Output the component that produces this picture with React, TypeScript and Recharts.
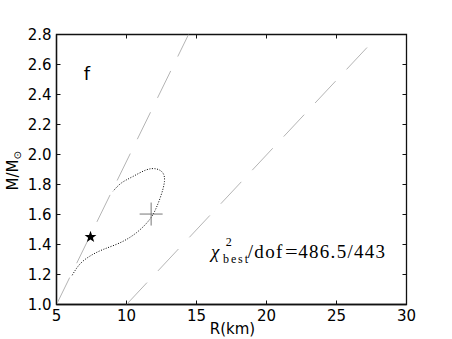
import React from 'react';
import { ComposedChart, Scatter, XAxis, YAxis, Label, ReferenceDot, ReferenceArea, ReferenceLine } from 'recharts';

// ---- data ----
const xTicks = [5, 10, 15, 20, 25, 30];
const yTicks = [1.0, 1.2, 1.4, 1.6, 1.8, 2.0, 2.2, 2.4, 2.6, 2.8];
const xDomain = [5, 30];
const yDomain = [1.0, 2.8];

// 1-sigma contour (dotted)
const contourR = [6.12, 6.64, 7.36, 8.31, 9.5, 10.69, 11.64, 12.12, 12.48, 12.71, 12.59, 12.12, 11.4, 10.45, 9.62, 9.02];
const contourM = [1.195, 1.266, 1.321, 1.366, 1.41, 1.477, 1.565, 1.643, 1.731, 1.82, 1.878, 1.904, 1.897, 1.853, 1.809, 1.753];

// dashed limit lines
const limit1R = [5, 14.43];
const limit1M = [1.0, 2.8];
const limit2R = [10, 27.55];
const limit2M = [1.0, 2.75];

// markers
const starR = [7.43];
const starM = [1.454];
const bestR = [11.76];
const bestM = [1.603];

// annotations
const panelLabel = { r: 7.18, m: 2.50, text: 'f' };
const chiLabel = { r: 16.036, m: 1.3067 };

const toPts = (rs: number[], ms: number[]) => rs.map((r, i) => ({ r, m: ms[i] }));

const contourData = toPts(contourR, contourM);
const limit1Data = toPts(limit1R, limit1M);
const limit2Data = toPts(limit2R, limit2M);
const starData = toPts(starR, starM);
const bestData = toPts(bestR, bestM);

const FONT = 'DejaVu Sans, sans-serif';
const TICK = 4;
const FRAME = '#111';

const BottomTick = (p: any) => (
  <g>
    <line x1={p.x} x2={p.x} y1={p.y} y2={p.y - TICK} stroke={FRAME} strokeWidth={1} />
    <text x={p.x} y={p.y + 16} textAnchor="middle" fontFamily={FONT} fontSize={15} fill="#000">
      {p.payload.value}
    </text>
  </g>
);
const LeftTick = (p: any) => (
  <g>
    <line x1={p.x} x2={p.x + TICK} y1={p.y} y2={p.y} stroke={FRAME} strokeWidth={1} />
    <text x={p.x - 5} y={p.y + 5.5} textAnchor="end" fontFamily={FONT} fontSize={15} fill="#000">
      {Number(p.payload.value).toFixed(1)}
    </text>
  </g>
);

// top tick: short inward mark at the upper end of a vertical reference line
const TopTickLine = (p: any) => {
  const top = Math.min(p.y1, p.y2);
  return <line x1={p.x1} x2={p.x1} y1={top} y2={top + TICK} stroke={FRAME} strokeWidth={1} />;
};
// right tick: short inward mark at the right end of a horizontal reference line
const RightTickLine = (p: any) => {
  const right = Math.max(p.x1, p.x2);
  return <line x1={right} x2={right - TICK} y1={p.y1} y2={p.y1} stroke={FRAME} strokeWidth={1} />;
};

const StarShape = (p: any) => {
  const { cx, cy } = p;
  const R = 6.2, r = 2.5;
  const pts: string[] = [];
  for (let i = 0; i < 10; i++) {
    const a = -Math.PI / 2 + (i * Math.PI) / 5;
    const rad = i % 2 === 0 ? R : r;
    pts.push(`${cx + rad * Math.cos(a)},${cy + 0.6 + rad * Math.sin(a)}`);
  }
  return <polygon points={pts.join(' ')} fill="#000" />;
};

const CrossShape = (p: any) => {
  const { cx, cy } = p;
  const s = 11.5;
  return (
    <g stroke="#777" strokeWidth={1}>
      <line x1={cx - s} x2={cx + s} y1={cy} y2={cy} />
      <line x1={cx} x2={cx} y1={cy - s} y2={cy + s} />
    </g>
  );
};

const NoShape = () => <g />;

const ChiText = (p: any) => {
  const { cx, cy } = p;
  const serif = 'Liberation Serif, DejaVu Serif, serif';
  return (
    <g fill="#000" fontFamily={serif}>
      <text x={cx} y={cy} fontSize={19} fontStyle="italic">χ</text>
      <text x={cx + 14.7} y={cy - 12.5} fontSize={12}>2</text>
      <text x={cx + 12} y={cy + 4.5} fontSize={12} textLength={25} lengthAdjust="spacing">best</text>
      <text x={cx + 36.7} y={cy} fontSize={19} textLength={34.6} lengthAdjust="spacing">/dof</text>
      <text x={cx + 74} y={cy} fontSize={19} textLength={12.7} lengthAdjust="spacingAndGlyphs">=</text>
      <text x={cx + 87.3} y={cy} fontSize={19} textLength={86.7} lengthAdjust="spacing">486.5/443</text>
    </g>
  );
};

const PanelText = (p: any) => (
  <text x={p.cx} y={p.cy} textAnchor="middle" fontFamily={FONT} fontSize={18} fill="#000">
    {panelLabel.text}
  </text>
);

const YLabel = (p: any) => {
  const vb = p.viewBox;
  const x = vb.x + 18;
  const y = vb.y + 156;
  return (
    <text transform={`rotate(-90 ${x} ${y})`} x={x} y={y} fontFamily={FONT} fontSize={15} fill="#000">
      M/M<tspan fontSize={10} dy={3}>⊙</tspan>
    </text>
  );
};

const XLabel = (p: any) => {
  const vb = p.viewBox;
  return (
    <text x={vb.x + vb.width / 2 + 1} y={vb.y + 29.5} textAnchor="middle" fontFamily={FONT} fontSize={15} fill="#000">
      R(km)
    </text>
  );
};

export default function App() {
  return (
    <div style={{ position: 'absolute', left: 0, top: 0, background: '#fff' }}>
      <ComposedChart width={452} height={339} margin={{ top: 34.5, right: 45.5, bottom: 0, left: 0 }}>
        <XAxis
          type="number"
          dataKey="r"
          domain={xDomain}
          ticks={xTicks}
          interval={0}
          allowDataOverflow
          height={34.5}
          tickSize={0}
          tickMargin={0}
          tickLine={false}
          tick={BottomTick}
          axisLine={{ stroke: FRAME, strokeWidth: 1.3 }}
        >
          <Label content={XLabel} />
        </XAxis>
        <YAxis
          type="number"
          dataKey="m"
          domain={yDomain}
          ticks={yTicks}
          interval={0}
          allowDataOverflow
          width={56.5}
          tickSize={0}
          tickMargin={0}
          tickLine={false}
          tick={LeftTick}
          axisLine={{ stroke: FRAME, strokeWidth: 1.3 }}
        >
          <Label content={YLabel} />
        </YAxis>
        <ReferenceArea
          x1={xDomain[0]}
          x2={xDomain[1]}
          y1={yDomain[0]}
          y2={yDomain[1]}
          ifOverflow="visible"
          fill="#fff"
          fillOpacity={0}
          stroke={FRAME}
          strokeWidth={1.3}
        />
        {xTicks.map((t) => (
          <ReferenceLine key={`tx${t}`} x={t} shape={TopTickLine} />
        ))}
        {yTicks.map((t) => (
          <ReferenceLine key={`ty${t}`} y={t} shape={RightTickLine} />
        ))}
        <Scatter
          data={limit1Data}
          shape={NoShape}
          line={{ stroke: '#b4b4b4', strokeWidth: 1, strokeDasharray: '30 16' }}
          isAnimationActive={false}
        />
        <Scatter
          data={limit2Data}
          shape={NoShape}
          line={{ stroke: '#b4b4b4', strokeWidth: 1, strokeDasharray: '30 16' }}
          isAnimationActive={false}
        />
        <Scatter
          data={contourData}
          shape={NoShape}
          line={{ stroke: '#000', strokeWidth: 1, strokeDasharray: '1 1.6' }}
          lineJointType="natural"
          isAnimationActive={false}
        />
        <Scatter data={bestData} shape={CrossShape} isAnimationActive={false} />
        <Scatter data={starData} shape={StarShape} isAnimationActive={false} />
        <ReferenceDot x={panelLabel.r} y={panelLabel.m} r={0} shape={PanelText} />
        <ReferenceDot x={chiLabel.r} y={chiLabel.m} r={0} shape={ChiText} />
      </ComposedChart>
    </div>
  );
}
